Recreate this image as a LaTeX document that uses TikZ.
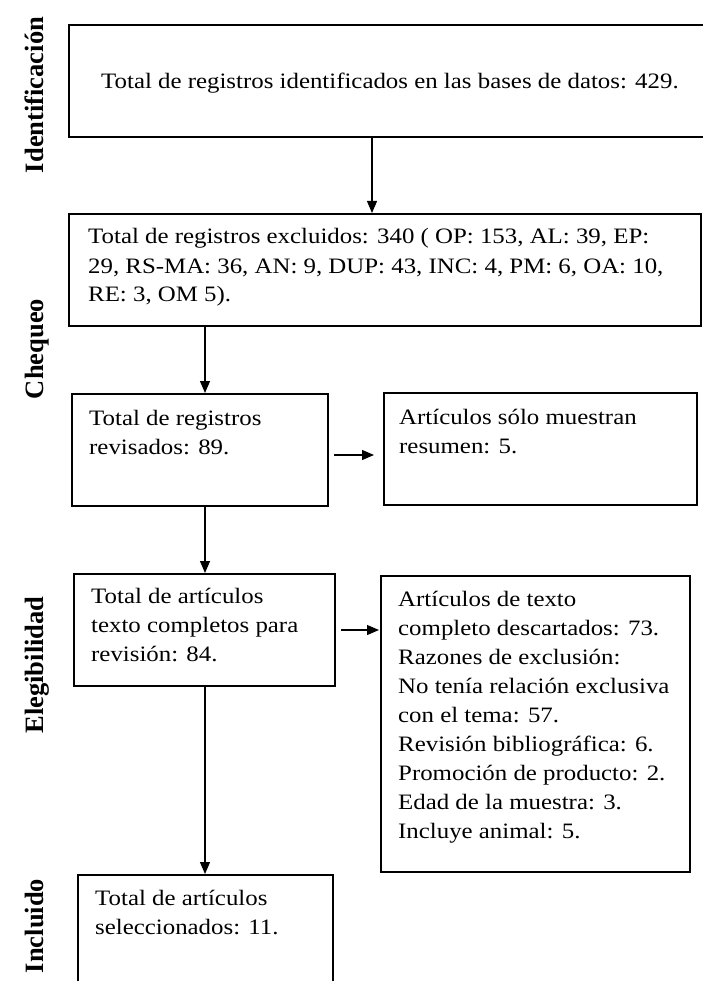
\documentclass[tikz,border=0pt]{standalone}
\usepackage{fontspec}
\setmainfont{Liberation Serif}[FakeStretch=1.13]
\newfontfamily\lblfont{Liberation Serif}
\usetikzlibrary{arrows.meta}
\newcommand{\boxtext}[1]{\parbox[t]{600pt}{\raggedright #1}}
\begin{document}
\begin{tikzpicture}[x=1pt,y=-1pt,
  frame/.style={draw, line width=2.2pt, inner sep=0pt, anchor=north west},
  conn/.style={line width=1.1pt, -{Triangle[length=12pt,width=10pt]}},
  body/.style={anchor=base west, inner sep=0pt, font=\fontsize{22}{29}\selectfont},
  phase/.style={rotate=90, anchor=base, inner sep=0pt, font=\lblfont\bfseries\fontsize{26.5}{30}\selectfont}]
\useasboundingbox (0,0) rectangle (702,981);

% phase labels
\node[phase] (p1) at (43,95) {Identificación};
\node[phase] (p2) at (43,349) {Chequeo};
\node[phase] (p3) at (43,665) {Elegibilidad};
\node[phase] (p4) at (43,926) {Incluido};

% boxes
\node[frame, minimum width=636pt, minimum height=112pt] (b1) at (68,24) {};
\node[frame, minimum width=632pt, minimum height=112pt] (b2) at (68,213) {};
\node[frame, minimum width=256pt, minimum height=112pt] (b3) at (71,393) {};
\node[frame, minimum width=313pt, minimum height=112pt] (b4) at (383,392) {};
\node[frame, minimum width=261pt, minimum height=112pt] (b5) at (73,573) {};
\node[frame, minimum width=309pt, minimum height=296pt] (b6) at (380,575) {};
\node[frame, minimum width=255pt, minimum height=130pt] (b7) at (77,874) {};

% texts
\node[body] (t1) at (101,89) {Total de registros identificados en las bases de datos: 429.};
\node[body] (t2) at (88,244) {\boxtext{Total de registros excluidos: 340 ( OP: 153, AL: 39, EP:\\29, RS-MA: 36, AN: 9, DUP: 43, INC: 4, PM: 6, OA: 10,\\RE: 3, OM 5).}};
\node[body] (t3) at (89,425) {\boxtext{Total de registros\\revisados: 89.}};
\node[body] (t4) at (399,424) {\boxtext{Artículos sólo muestran\\resumen: 5.}};
\node[body] (t5) at (91,603) {\boxtext{Total de artículos\\texto completos para\\revisión: 84.}};
\node[body] (t6) at (398,606) {\boxtext{Artículos de texto\\completo descartados: 73.\\Razones de exclusión:\\No tenía relación exclusiva\\con el tema: 57.\\Revisión bibliográfica: 6.\\Promoción de producto: 2.\\Edad de la muestra: 3.\\Incluye animal: 5.}};
\node[body] (t7) at (95,905) {\boxtext{Total de artículos\\seleccionados: 11.}};

% helper coordinates
\coordinate (ax1) at (372,0);
\coordinate (vx) at (205,0);
\coordinate (a3s) at (334,455);
\coordinate (a3e) at (374,455);
\coordinate (a5s) at (341,630);
\coordinate (a5e) at (379,630);

% connectors
\draw[conn] (b1.south -| ax1) -- (b2.north -| ax1);
\draw[conn] (b2.south -| vx) -- (b3.north -| vx);
\draw[conn] (a3s) -- (a3e);
\draw[conn] (b3.south -| vx) -- (b5.north -| vx);
\draw[conn] (a5s) -- (a5e);
\draw[conn] (b5.south -| vx) -- (b7.north -| vx);
\end{tikzpicture}
\end{document}
